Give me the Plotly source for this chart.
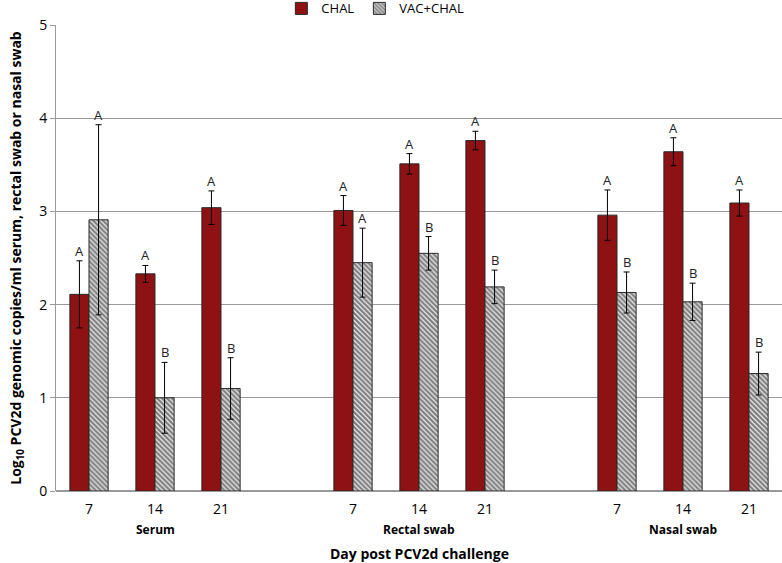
import plotly.graph_objects as go

# ---- data ----
slots = [0, 1, 2, 4, 5, 6, 8, 9, 10]
day_labels = ["7", "14", "21", "7", "14", "21", "7", "14", "21"]
group_labels = ["Serum", "Rectal swab", "Nasal swab"]
group_label_slots = [1, 5, 9]

chal = [2.11, 2.33, 3.04, 3.01, 3.51, 3.76, 2.96, 3.64, 3.09]
chal_err = [0.36, 0.09, 0.18, 0.16, 0.11, 0.10, 0.27, 0.15, 0.14]
chal_letters = ["A", "A", "A", "A", "A", "A", "A", "A", "A"]

vac = [2.91, 1.00, 1.10, 2.45, 2.55, 2.19, 2.13, 2.03, 1.26]
vac_err = [1.02, 0.38, 0.33, 0.37, 0.18, 0.18, 0.22, 0.20, 0.23]
vac_letters = ["A", "B", "B", "A", "B", "B", "B", "B", "B"]

FONT = "Liberation Sans Narrow, Open Sans, Liberation Sans, Arial, sans-serif"
RED = "#8e1114"

fig = go.Figure()
fig.add_trace(go.Bar(
    x=slots, y=chal, name="CHAL",
    marker=dict(color=RED, line=dict(color="#2a2a2a", width=1)),
    error_y=dict(type="data", array=chal_err, visible=True,
                 color="black", thickness=1, width=3),
))
fig.add_trace(go.Bar(
    x=slots, y=vac, name="VAC+CHAL",
    marker=dict(color="white", line=dict(color="#2a2a2a", width=1),
                pattern=dict(shape="\\", fgcolor="#111111", bgcolor="#e6e6e6",
                             size=3.5, solidity=0.6)),
    error_y=dict(type="data", array=vac_err, visible=True,
                 color="black", thickness=1, width=3),
))

bargap = 0.42
half = (1 - bargap) / 4
annotations = []
for s, v, e, t in zip(slots, chal, chal_err, chal_letters):
    annotations.append(dict(x=s - half, y=v + e, text=t, showarrow=False,
                            yshift=10, font=dict(size=13, color="#222", family=FONT)))
for s, v, e, t in zip(slots, vac, vac_err, vac_letters):
    annotations.append(dict(x=s + half, y=v + e, text=t, showarrow=False,
                            yshift=10, font=dict(size=13, color="#222", family=FONT)))
for s, g in zip(group_label_slots, group_labels):
    annotations.append(dict(x=s, y=0, xref="x", yref="y", text="<b>" + g + "</b>",
                            showarrow=False, yshift=-38,
                            font=dict(size=12, color="black", family=FONT)))
annotations.append(dict(x=0.5, xref="paper", y=0, yref="y", text="<b>Day post PCV2d challenge</b>",
                        showarrow=False, yshift=-62,
                        font=dict(size=14, color="black", family=FONT)))

fig.update_layout(
    width=782, height=563,
    margin=dict(l=56, r=0, t=25, b=72, autoexpand=False),
    paper_bgcolor="white", plot_bgcolor="white",
    barmode="group", bargap=bargap, bargroupgap=0,
    font=dict(family=FONT, size=14, color="black"),
    showlegend=True,
    legend=dict(orientation="h", x=0.48, xref="container", xanchor="center",
                y=0.985, yref="container", yanchor="middle",
                font=dict(size=13, family=FONT), itemwidth=30,
                bgcolor="rgba(0,0,0,0)", traceorder="normal"),
    annotations=annotations,
    xaxis=dict(tickmode="array", tickvals=slots, ticktext=day_labels,
               range=[-0.5, 10.5], showgrid=False, zeroline=False,
               showline=False, ticks="", tickfont=dict(size=14, family=FONT),
               ticklabelstandoff=8, automargin=False),
    yaxis=dict(range=[0, 5], dtick=1, showgrid=True, gridcolor="#9a9a9a",
               gridwidth=1, zeroline=True, zerolinecolor="#9a9a9a",
               showline=True, linecolor="#9a9a9a", linewidth=1,
               ticks="outside", ticklen=5, tickcolor="#9a9a9a",
               tickfont=dict(size=14, family=FONT), automargin=False,
               title=dict(text="<b>Log<sub>10</sub> PCV2d genomic copies/ml serum, rectal swab or nasal swab</b>",
                          font=dict(size=14, family=FONT), standoff=14)),
)

fig.write_html("out.html", config={"displayModeBar": False},
               post_script="document.body.style.margin='0px';")
